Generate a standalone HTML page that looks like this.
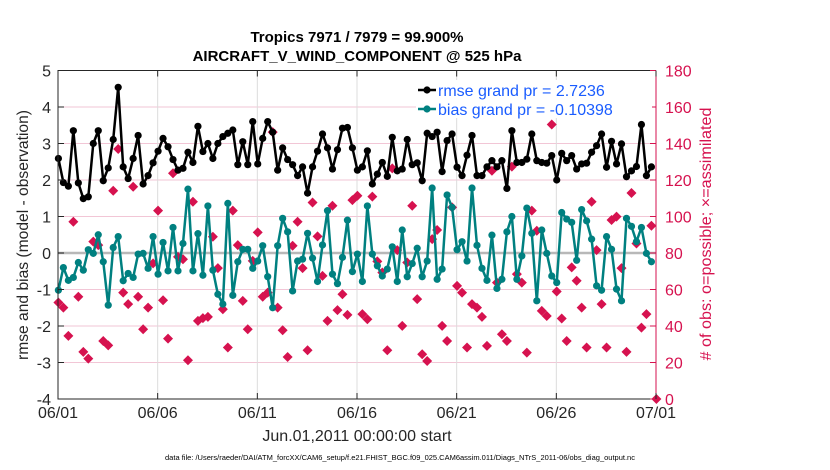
<!DOCTYPE html>
<html><head><meta charset="utf-8"><style>
body{margin:0;background:#fff;}
svg{display:block;font-family:"Liberation Sans",sans-serif;}
</style></head><body>
<svg id="chart" width="830" height="470" viewBox="0 0 830 470"></svg>
<script>
const rmseValues=[2.59,1.93,1.83,3.35,1.92,1.49,1.54,3.00,3.35,1.98,2.33,3.11,4.54,2.36,2.04,2.59,3.22,1.89,2.12,2.47,2.79,3.14,2.91,2.56,2.27,2.32,2.76,2.48,3.47,2.78,3.00,2.59,3.00,3.19,3.28,3.37,2.42,3.05,2.42,3.60,
2.44,3.14,3.60,3.31,2.27,2.88,2.56,2.42,2.12,2.36,1.64,2.36,2.79,3.26,2.88,2.30,2.83,3.42,3.44,2.88,2.27,2.36,2.80,1.89,2.16,2.48,2.10,3.17,2.25,2.30,3.11,2.42,2.47,1.98,3.28,3.19,3.31,2.23,3.08,3.26,
2.35,2.12,2.68,3.22,2.12,2.12,2.36,2.53,2.36,2.53,1.77,3.35,2.48,2.48,2.57,3.26,2.53,2.48,2.46,2.67,2.00,2.73,2.53,2.67,2.30,2.44,2.46,2.76,2.94,3.26,2.35,3.06,2.44,2.99,2.09,2.25,2.37,3.52,2.12,2.36];
const biasValues=[-1.02,-0.40,-0.75,-0.67,-0.26,-0.47,0.09,-0.01,0.50,-0.24,-1.43,0.15,0.45,-0.76,-0.56,-0.67,-0.03,-0.01,-0.42,0.45,-0.58,0.29,-0.49,0.70,-0.49,0.26,1.75,-0.49,0.53,-0.61,1.29,-0.47,-1.13,-1.40,1.36,-1.16,-0.24,0.10,0.10,-0.42,
-0.22,0.20,-0.65,-1.50,0.20,0.95,0.58,-1.04,-0.22,-0.17,0.54,-0.14,-0.78,0.22,1.16,-0.58,-0.84,-0.12,0.90,-0.51,-0.03,-0.78,1.29,-0.03,-0.35,-0.63,-0.44,0.17,-0.78,0.63,-0.65,-0.29,0.13,-0.65,-0.22,1.78,-0.72,-0.44,1.59,1.25,
0.09,0.31,-0.22,1.78,0.21,-0.42,-0.75,0.49,-0.97,-0.72,0.58,1.00,-0.72,-0.08,1.23,0.54,-1.31,0.63,-0.01,-0.63,-0.81,1.11,0.93,0.84,-0.20,1.19,0.88,0.38,-0.90,-1.02,0.45,0.10,-0.99,-1.31,0.95,0.73,0.31,0.70,-0.01,-0.24];
const obsCounts=[52.9,50.1,34.6,97.1,56.0,25.8,22.1,86.2,84.3,31.8,29.4,114.1,137.0,58.3,52.0,116.3,56.0,38.2,50.1,74.3,103.2,54.1,33.1,123.7,77.9,76.6,21.2,108.1,42.8,44.3,45.0,88.9,71.7,49.2,28.2,103.2,84.3,53.8,38.2,75.7,
91.3,56.0,58.3,146.2,50.1,37.7,23.0,84.0,97.1,71.7,26.7,107.7,89.1,67.5,42.8,105.9,48.7,57.4,46.1,109.0,111.4,46.5,43.7,110.9,75.4,69.3,26.7,126.4,81.6,40.1,74.8,105.9,54.7,24.5,20.8,87.6,92.6,40.1,31.8,105.0,
62.0,58.3,28.2,52.0,50.1,45.0,29.1,125.1,63.8,35.5,31.8,127.3,68.4,63.8,25.4,103.2,92.2,48.3,45.5,150.4,58.9,44.1,31.8,72.1,64.8,50.1,28.2,108.1,81.6,52.0,28.2,98.1,99.9,71.7,25.8,112.9,85.2,39.1,46.5,94.9,0];
const xTickLabels=["06/01","06/06","06/11","06/16","06/21","06/26","07/01"];
const leftTicks=[-4,-3,-2,-1,0,1,2,3,4,5];
const rightTicks=[0,20,40,60,80,100,120,140,160,180];

const svg=document.getElementById('chart');
const NS='http://www.w3.org/2000/svg';
const L=58,R=656,T=70.5,B=399;
const xDay=d=>L+(R-L)*d/30;
const xIdx=i=>xDay(i*0.25+0.02);
const yL=v=>T+(5-v)*(B-T)/9;
const yR=n=>B-n*(B-T)/180;
function mk(tag,attrs,parent){const e=document.createElementNS(NS,tag);for(const k in attrs)e.setAttribute(k,attrs[k]);(parent||svg).appendChild(e);return e;}

rightTicks.forEach(t=>{if(t>0&&t<180){const g=mk('line',{x1:L,x2:R,y1:yR(t),y2:yR(t),stroke:'#f2c6d6','stroke-width':1});

}});
xTickLabels.forEach((s,k)=>{if(k>0&&k<6){const g=mk('line',{x1:xDay(k*5),x2:xDay(k*5),y1:T,y2:B,stroke:'#dcdcdc','stroke-width':1});

}});
const zl=mk('line',{x1:L,x2:R,y1:yL(0),y2:yL(0),stroke:'#b8b8b8','stroke-width':2.5});



obsCounts.forEach((n,i)=>{const x=xIdx(i),y=yR(n);
const d=mk('path',{d:`M${x-5},${y}L${x},${y-5}L${x+5},${y}L${x},${y+5}Z`,fill:'#d6124f'});

});

function series(vals,color,name){
const p=mk('polyline',{points:vals.map((v,i)=>xIdx(i)+','+yL(v)).join(' '),fill:'none',stroke:color,'stroke-width':2.5,'stroke-linejoin':'round'});


vals.forEach((v,i)=>{const c=mk('circle',{cx:xIdx(i),cy:yL(v),r:3.6,fill:color});

});}
series(biasValues,'#008080','bias');
series(rmseValues,'#000000','rmse');

const ax=mk('path',{d:`M${R},${T}H${L}V${B}H${R}`,fill:'none',stroke:'#262626','stroke-width':1});


const ra=mk('line',{x1:R,x2:R,y1:T,y2:B,stroke:'#d6124f','stroke-width':1});


leftTicks.forEach(t=>{const y=yL(t);mk('line',{x1:L,x2:L+6,y1:y,y2:y,stroke:'#262626'});
const tx=mk('text',{x:L-7,y:y+6,'text-anchor':'end','font-size':16,fill:'#262626'});tx.textContent=t;

});
rightTicks.forEach(t=>{const y=yR(t);mk('line',{x1:R-6,x2:R,y1:y,y2:y,stroke:'#d6124f'});
const tx=mk('text',{x:R+9,y:y+6,'font-size':16,fill:'#d6124f'});tx.textContent=t;

});
xTickLabels.forEach((s,k)=>{const x=xDay(k*5);mk('line',{x1:x,x2:x,y1:B-6,y2:B,stroke:'#262626'});mk('line',{x1:x,x2:x,y1:T,y2:T+6,stroke:'#262626'});
const tx=mk('text',{x:x,y:418,'text-anchor':'middle','font-size':16,fill:'#262626'});tx.textContent=s;

});

const lg=mk('g',{});


mk('rect',{x:416,y:80,width:236,height:38,fill:'#fff'},lg);
mk('line',{x1:418,x2:436,y1:90,y2:90,stroke:'#000','stroke-width':2.5},lg);
mk('circle',{cx:427,cy:90,r:3.6,fill:'#000'},lg);
mk('line',{x1:418,x2:436,y1:109,y2:109,stroke:'#008080','stroke-width':2.5},lg);
mk('circle',{cx:427,cy:109,r:3.6,fill:'#008080'},lg);
const l1=mk('text',{x:438,y:96,'font-size':16,fill:'#1a5cff'},lg);l1.textContent='rmse grand pr = 2.7236';


const l2=mk('text',{x:438,y:115,'font-size':16,fill:'#1a5cff'},lg);l2.textContent='bias grand pr = -0.10398';


</script>
<svg style="position:absolute;left:0;top:0" width="830" height="470">
<text x="357" y="42" text-anchor="middle" font-size="15" font-weight="bold" fill="#000" font-family="Liberation Sans, sans-serif">Tropics 7971 / 7979 = 99.900%</text>
<text x="357" y="61" text-anchor="middle" font-size="15" font-weight="bold" fill="#000" font-family="Liberation Sans, sans-serif">AIRCRAFT_V_WIND_COMPONENT @ 525 hPa</text>
<text transform="translate(28,235) rotate(-90)" text-anchor="middle" font-size="16" fill="#262626" font-family="Liberation Sans, sans-serif" textLength="250" lengthAdjust="spacingAndGlyphs">rmse and bias (model - observation)</text>
<text transform="translate(711,234) rotate(-90)" text-anchor="middle" font-size="16" fill="#d6124f" font-family="Liberation Sans, sans-serif" textLength="253" lengthAdjust="spacingAndGlyphs"># of obs: o=possible; ×=assimilated</text>
<text x="357" y="441" text-anchor="middle" font-size="16" fill="#262626" font-family="Liberation Sans, sans-serif">Jun.01,2011 00:00:00 start</text>
<text x="400" y="460" text-anchor="middle" font-size="7.5" fill="#000" font-family="Liberation Sans, sans-serif">data file: /Users/raeder/DAI/ATM_forcXX/CAM6_setup/f.e21.FHIST_BGC.f09_025.CAM6assim.011/Diags_NTrS_2011-06/obs_diag_output.nc</text>
</svg>
</body></html>
